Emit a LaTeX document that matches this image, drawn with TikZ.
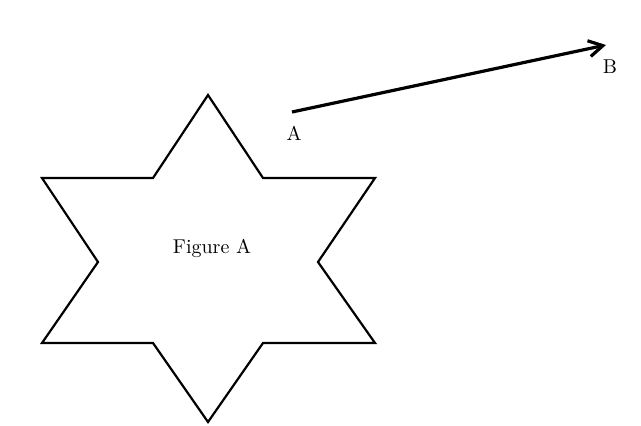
\documentclass[tikz,border=0pt]{standalone}
\usetikzlibrary{arrows.meta}
\tikzset{
    starline/.style={line width=1.1pt, line join=miter},
    vecline/.style={line width=1.6pt, -{Straight Barb[length=7pt, width=8pt, line width=1.6pt]}},
    ptlabel/.style={inner sep=0pt, font=\normalsize}
}
\begin{document}
\begin{tikzpicture}[x=0.5pt, y=0.5pt]
\useasboundingbox (0,0) rectangle (641,425);
% six-pointed star
\draw[starline] (208,330) -- (263,247) -- (375,247) -- (318,163)
    -- (375,82) -- (263,82) -- (208,3) -- (153,82) -- (42,82)
    -- (98,163) -- (42,247) -- (153,247) -- cycle;
\node[ptlabel] (fig) at (212,177) {Figure A};
% vector from A to B
\coordinate (ptA) at (292,313);
\coordinate (ptB) at (606,380);
\draw[vecline] (ptA) -- (ptB);
\node[ptlabel] (labA) at (294,292) {A};
\node[ptlabel] (labB) at (610,358) {B};
\end{tikzpicture}
\end{document}
